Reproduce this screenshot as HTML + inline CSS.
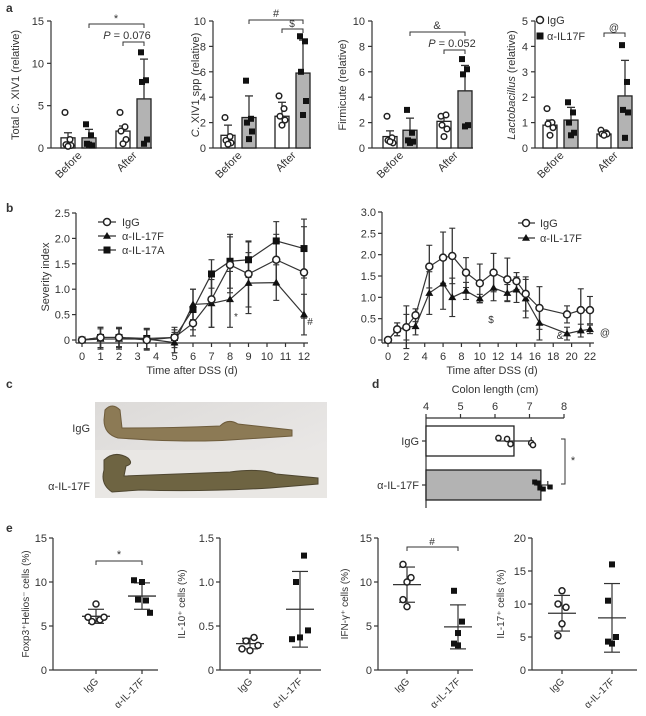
<!DOCTYPE html>
<html><head><meta charset="utf-8">
<style>
html,body{margin:0;padding:0;background:#fff;}
svg{display:block;font-family:"Liberation Sans",Arial,sans-serif;}
text{fill:#333;}
</style></head>
<body>
<svg id="fig" width="646" height="716" viewBox="0 0 646 716">
<defs>
<linearGradient id="bgGrad" x1="0" y1="0" x2="1" y2="1">
<stop offset="0" stop-color="#dcdad8"/><stop offset="1" stop-color="#eeeceb"/>
</linearGradient>
</defs>
</svg>
<script>
// ---------- Panel a data ----------
const aCategories = ["Before", "After"];
const aGroups = ["IgG", "α-IL17F"];
const aTitles = ["Total C. XIV1 (relative)", "C. XIV1 spp (relative)", "Firmicute (relative)", "Lactobacillus (relative)"];
const aMax = [15, 10, 10, 5];
const aTicks = [[0,5,10,15],[0,2,4,6,8,10],[0,2,4,6,8,10],[0,1,2,3,4,5]];
const aBars1 = [1.2, 1.2, 2.0, 5.8];
const aErr1 = [1.8, 2.2, 2.6, 10.5];
const aBars2 = [1.0, 2.4, 2.5, 5.9];
const aErr2 = [1.8, 4.1, 3.6, 8.5];
const aBars3 = [0.9, 1.4, 2.1, 4.5];
const aErr3 = [1.35, 2.35, 2.5, 6.5];
const aBars4 = [0.9, 1.1, 0.55, 2.05];
const aErr4 = [1.1, 1.6, 0.65, 3.45];
const aPts1 = [[4.2,1.0,0.4,0.3,0.2],[2.8,1.5,0.5,0.3,0.4],[4.2,2.5,2.0,1.0,0.5],[11.3,8.0,7.8,1.0,0.5]];
const aPts2 = [[2.4,0.9,0.6,0.4,0.3],[5.3,2.3,2.0,1.3,0.7],[4.1,3.1,2.5,2.2,1.8],[8.8,8.4,6.0,3.7,2.6]];
const aPts3 = [[2.5,0.8,0.6,0.4,0.5],[3.0,1.2,0.6,0.5,0.4],[2.5,2.6,1.8,1.5,0.9],[7.0,6.2,5.8,1.8,1.7]];
const aPts4 = [[1.55,1.0,0.95,0.8,0.5],[1.8,1.4,1.0,0.6,0.5],[0.7,0.6,0.55,0.55,0.5],[4.05,2.6,1.5,1.4,0.4]];

// ---------- Panel b data ----------
const bDaysL = [0,1,2,3.5,5,6,7,8,9,10.5,12];
const bIgGL = [0,0.05,0.05,0,0.05,0.33,0.8,1.48,1.3,1.58,1.33];
const bIgGLsd = [0,0.2,0.18,0.2,0.15,0.25,0.55,0.55,0.65,0.5,0.9];
const b17FL = [0,0.02,0.02,0.02,-0.05,0.7,0.72,0.8,1.12,1.13,0.5];
const b17FLsd = [0,0.2,0.2,0.2,0.2,0.3,0.47,0.55,0.6,0.35,0.4];
const b17AL = [0,0.05,0.05,0.03,0.05,0.6,1.3,1.55,1.58,1.95,1.8];
const b17ALsd = [0,0.2,0.2,0.2,0.2,0.4,0.28,0.53,0.35,0.38,0.58];
const bTicksLx = [0,1,2,3,4,5,6,7,8,9,10,11,12];
const bTicksLy = [0,0.5,1.0,1.5,2.0,2.5];
const bDaysR = [0,1,2,3,4.5,6,7,8.5,10,11.5,13,14,15,16.5,19.5,21,22];
const bIgGR = [0,0.25,0.3,0.58,1.72,1.93,1.97,1.58,1.33,1.58,1.42,1.38,1.08,0.75,0.6,0.7,0.7];
const bIgGRsd = [0,0.15,0.5,0.15,0.5,0.6,0.65,0.35,0.45,0.45,0.5,0.2,0.4,0.5,0.2,0.5,0.32];
const b17FR = [0,0.25,0.3,0.32,1.1,1.32,1.0,1.15,0.97,1.22,1.1,1.18,0.97,0.4,0.15,0.22,0.25];
const b17FRsd = [0,0.15,0.3,0.2,0.5,0.6,0.45,0.2,0.1,0.3,0.2,0.3,0.45,0.4,0.15,0.15,0.1];
const bTicksRx = [0,2,4,6,8,10,12,14,16,18,20,22];
const bTicksRy = [0,0.5,1.0,1.5,2.0,2.5,3.0];

// ---------- Panel d data ----------
const dGroups = ["IgG", "α-IL-17F"];
const dMeans = [6.55, 7.33];
const dSd = [0.5, 0.2];
const dPtsIgG = [6.1, 6.45, 6.35, 7.05, 7.1];
const dPts17F = [7.15, 7.3, 7.25, 7.6, 7.4];
const dTicks = [4,5,6,7,8];

// ---------- Panel e data ----------
const eTitles = ["Foxp3⁺Helios⁻ cells (%)", "IL-10⁺ cells (%)", "IFN-γ⁺ cells (%)", "IL-17⁺ cells (%)"];
const eMax = [15, 1.5, 15, 20];
const eTicks = [[0,5,10,15],[0,0.5,1.0,1.5],[0,5,10,15],[0,5,10,15,20]];
const eIgG1 = [7.5,6.0,5.5,5.7,6.0];
const e17F1 = [10.0,10.2,8.0,7.9,6.5];
const eIgG2 = [0.37,0.33,0.28,0.24,0.22];
const e17F2 = [1.3,1.0,0.45,0.35,0.37];
const eIgG3 = [12.0,10.5,10.0,8.0,7.2];
const e17F3 = [9.0,5.5,4.2,3.0,2.8];
const eIgG4 = [12.0,10.0,9.5,7.0,5.2];
const e17F4 = [16.0,10.5,5.0,4.0,4.3];
const eMeans = [[6.1,8.4],[0.3,0.69],[9.7,4.9],[8.6,7.9]];
const eSds = [[0.8,1.5],[0.06,0.43],[2.0,2.5],[2.7,5.2]];

const svg = document.getElementById('fig');
const NS = 'http://www.w3.org/2000/svg';
function mk(tag, attrs, name, parent) {
  const el = document.createElementNS(NS, tag);
  for (const k in attrs) el.setAttribute(k, attrs[k]);
  
  
  (parent || svg).appendChild(el);
  return el;
}
function txt(x, y, s, name, opts) {
  opts = opts || {};
  const t = mk('text', {x:x, y:y, 'font-size':opts.size||11, 'text-anchor':opts.anchor||'middle', fill:opts.fill||'#333', 'font-weight':opts.weight||'normal'}, name);
  if (opts.rot !== undefined) t.setAttribute('transform', 'rotate(' + opts.rot + ' ' + x + ' ' + y + ')');
  if (opts.italic) t.setAttribute('font-style', 'italic');
  t.textContent = s;
  return t;
}
function line(x1,y1,x2,y2,name,w,c) {
  return mk('line',{x1:x1,y1:y1,x2:x2,y2:y2,stroke:c||'#333','stroke-width':w||1.2},name);
}
function circ(x,y,r,name){ return mk('circle',{cx:x,cy:y,r:r,fill:'#fff',stroke:'#222','stroke-width':1.5},name); }
function sq(x,y,s,name){ return mk('rect',{x:x-s/2,y:y-s/2,width:s,height:s,fill:'#111'},name); }
function tri(x,y,s,name){ return mk('polygon',{points:(x)+','+(y-s)+' '+(x-s)+','+(y+s*0.7)+' '+(x+s)+','+(y+s*0.7),fill:'#111'},name); }
function bracket(x1,x2,y,name){ mk('path',{d:'M'+x1+' '+(y+4)+' V'+y+' H'+x2+' V'+(y+4),fill:'none',stroke:'#333','stroke-width':1},name); }

// panel letters
txt(6,12,'a','panel-label-a',{anchor:'start',weight:'bold',size:12});
txt(6,212,'b','panel-label-b',{anchor:'start',weight:'bold',size:12});
txt(6,388,'c','panel-label-c',{anchor:'start',weight:'bold',size:12});
txt(372,388,'d','panel-label-d',{anchor:'start',weight:'bold',size:12});
txt(6,532,'e','panel-label-e',{anchor:'start',weight:'bold',size:12});

// ---------- Panel a ----------
const aAxisX = [51, 213, 372, 535];
const aBarX = [[68,89,123,144],[228,249,282,303],[390,410,444,465],[550,571,604,625]];
const aTitleX = [19, 199, 346, 515];
const aBarsAll = [aBars1, aBars2, aBars3, aBars4];
const aErrAll = [aErr1, aErr2, aErr3, aErr4];
const aPtsAll = [aPts1, aPts2, aPts3, aPts4];
const jit = [-3, 2, -2, 3, 0];
for (let c = 0; c < 4; c++) {
  const y0 = 148, yTop = 21;
  const ys = v => y0 - v / aMax[c] * (y0 - yTop);
  const ax = aAxisX[c];
  line(ax, yTop, ax, y0, 'a-y-axis-' + (c+1));
  line(ax, y0, aBarX[c][3] + 8, y0, 'a-x-axis-' + (c+1));
  aTicks[c].forEach(t => {
    line(ax-4, ys(t), ax, ys(t), 'a-y-tick');
    txt(ax-7, ys(t)+4, String(t), 'a-y-tick-label', {anchor:'end', size:11});
  });
  const title = aTitles[c];
  const tt = txt(aTitleX[c], 85, '', 'a-y-axis-title-' + (c+1), {rot:-90, size:11});
  if (c === 0) { tt.innerHTML = 'Total <tspan font-style="italic">C.</tspan> XIV1 (relative)'; }
  else if (c === 1) { tt.innerHTML = '<tspan font-style="italic">C.</tspan> XIV1 spp (relative)'; }
  else if (c === 3) { tt.innerHTML = '<tspan font-style="italic">Lactobacillus</tspan> (relative)'; }
  else { tt.textContent = title; }
  for (let b = 0; b < 4; b++) {
    const bx = aBarX[c][b];
    const filled = b % 2 === 1;
    const by = ys(aBarsAll[c][b]);
    mk('rect', {x:bx-7, y:by, width:14, height:y0-by, fill: filled ? '#b3b3b3' : '#fff', stroke:'#222', 'stroke-width':1.3}, 'a-bar-' + aCategories[Math.floor(b/2)].toLowerCase() + '-' + (filled?'il17f':'igg'));
    const ey = ys(aErrAll[c][b]);
    line(bx, ey, bx, by, 'a-error-bar', 1.3);
    line(bx-4, ey, bx+4, ey, 'a-error-cap', 1.3);
    aPtsAll[c][b].forEach((v, i) => {
      const px = bx + jit[i];
      if (filled) sq(px, ys(v), 6, 'a-point-il17f'); else circ(px, ys(v), 2.8, 'a-point-igg');
    });
  }
  aCategories.forEach((cat, k) => {
    const cx = (aBarX[c][2*k] + aBarX[c][2*k+1]) / 2 + 4;
    txt(cx, 156, cat, 'a-x-label-' + cat.toLowerCase(), {anchor:'end', rot:-45, size:11});
  });
}
// panel a annotations
bracket(89,144,24,'a1-sig-bracket'); txt(116,22,'*','a1-sig-star',{size:11});
txt(127,39,'','a1-pvalue',{size:11}).innerHTML='<tspan font-style="italic">P</tspan> = 0.076';
bracket(123,144,42,'a1-p-bracket');
bracket(249,303,20,'a2-sig-bracket'); txt(276,17,'#','a2-sig-hash',{size:11});
bracket(282,303,29,'a2-dollar-bracket'); txt(292,27,'$','a2-sig-dollar',{size:10});
bracket(410,465,32,'a3-sig-bracket'); txt(437,29,'&','a3-sig-amp',{size:11});
txt(452,47,'','a3-pvalue',{size:11}).innerHTML='<tspan font-style="italic">P</tspan> = 0.052';
bracket(444,465,50,'a3-p-bracket');
bracket(604,625,33,'a4-sig-bracket'); txt(614,31,'@','a4-sig-at',{size:10});
circ(540,20,3.5,'legend-igg-marker'); txt(547,24,'IgG','legend-igg-label',{anchor:'start',size:11});
sq(540,36,7,'legend-il17f-marker'); txt(547,40,'α-IL17F','legend-il17f-label',{anchor:'start',size:11});

// ---------- Panel b ----------
function lineChart(cfg) {
  const xs = v => cfg.x0 + v * cfg.dx;
  const ys = v => cfg.y0 - v / cfg.ymax * (cfg.y0 - cfg.yTop);
  line(cfg.ax, cfg.yTop, cfg.ax, cfg.y0 + 3, cfg.id + '-y-axis');
  line(cfg.ax, cfg.y0 + 3, xs(cfg.xTicks[cfg.xTicks.length-1]) + 4, cfg.y0 + 3, cfg.id + '-x-axis');
  cfg.yTicks.forEach(t => {
    line(cfg.ax-4, ys(t), cfg.ax, ys(t), cfg.id + '-y-tick');
    txt(cfg.ax-6, ys(t)+4, t === 0 ? '0' : t.toFixed(1), cfg.id + '-y-tick-label', {anchor:'end', size:11});
  });
  cfg.xTicks.forEach(t => {
    line(xs(t), cfg.y0+3, xs(t), cfg.y0+7, cfg.id + '-x-tick');
    txt(xs(t), cfg.y0+20, String(t), cfg.id + '-x-tick-label', {size:11});
  });
  cfg.series.forEach(s => {
    let d = '';
    cfg.days.forEach((dd, i) => { d += (i ? 'L' : 'M') + xs(dd) + ' ' + ys(s.vals[i]) + ' '; });
    mk('path', {d:d, fill:'none', stroke:'#333', 'stroke-width':1.2}, cfg.id + '-line-' + s.key);
    cfg.days.forEach((dd, i) => {
      const x = xs(dd), v = s.vals[i], e = s.sd[i];
      if (e > 0) {
        line(x, ys(v+e), x, ys(v-e), cfg.id + '-error-bar', 1.3);
        line(x-3, ys(v+e), x+3, ys(v+e), cfg.id + '-error-cap', 1.1);
        line(x-3, ys(v-e), x+3, ys(v-e), cfg.id + '-error-cap', 1.1);
      }
    });
  });
  cfg.series.forEach(s => {
    cfg.days.forEach((dd, i) => {
      const x = xs(dd), y = ys(s.vals[i]);
      if (s.key === 'igg') circ(x, y, 3.5, cfg.id + '-point-igg');
      else if (s.key === 'il17f') tri(x, y, 4, cfg.id + '-point-il17f');
      else sq(x, y, 7, cfg.id + '-point-il17a');
    });
  });
}
lineChart({id:'b-left', ax:76, x0:82, dx:18.5, y0:340, yTop:213, ymax:2.5, xTicks:bTicksLx, yTicks:bTicksLy, days:bDaysL,
  series:[{key:'il17a', vals:b17AL, sd:b17ALsd},{key:'il17f', vals:b17FL, sd:b17FLsd},{key:'igg', vals:bIgGL, sd:bIgGLsd}]});
lineChart({id:'b-right', ax:382, x0:388, dx:9.18, y0:340, yTop:212, ymax:3.0, xTicks:bTicksRx, yTicks:bTicksRy, days:bDaysR,
  series:[{key:'il17f', vals:b17FR, sd:b17FRsd},{key:'igg', vals:bIgGR, sd:bIgGRsd}]});
txt(49,277,'Severity index','b-left-y-axis-title',{rot:-90,size:11});
txt(192,374,'Time after DSS (d)','b-left-x-axis-title',{size:11});
txt(492,374,'Time after DSS (d)','b-right-x-axis-title',{size:11});
// legends b
[['igg','IgG',222],['il17f','α-IL-17F',236],['il17a','α-IL-17A',250]].forEach(l => {
  line(98,l[2],116,l[2],'b-left-legend-line');
  if (l[0]==='igg') circ(107,l[2],3.5,'b-left-legend-marker-igg');
  else if (l[0]==='il17f') tri(107,l[2],4,'b-left-legend-marker-il17f');
  else sq(107,l[2],7,'b-left-legend-marker-il17a');
  txt(122,l[2]+4,l[1],'b-left-legend-label-'+l[0],{anchor:'start',size:11});
});
[['igg','IgG',223],['il17f','α-IL-17F',238]].forEach(l => {
  line(518,l[2],535,l[2],'b-right-legend-line');
  if (l[0]==='igg') circ(526,l[2],3.5,'b-right-legend-marker-igg');
  else tri(526,l[2],4,'b-right-legend-marker-il17f');
  txt(540,l[2]+4,l[1],'b-right-legend-label-'+l[0],{anchor:'start',size:11});
});
txt(236,320,'*','b-left-sig-star',{size:10});
txt(310,325,'#','b-left-sig-hash',{size:10});
txt(491,323,'$','b-right-sig-dollar',{size:10});
txt(560,339,'&','b-right-sig-amp',{size:10});
txt(605,336,'@','b-right-sig-at',{size:10});

// ---------- Panel c (photo) ----------
mk('rect',{x:95,y:402,width:232,height:96,fill:'url(#bgGrad)'},'colon-photo');
mk('rect',{x:95,y:450,width:232,height:48,fill:'#e9e7e4'},'colon-photo-lower');
mk('path',{d:'M105 410 Q112 402 120 410 L122 428 Q170 428 220 426 Q228 418 238 424 L292 430 L292 436 L230 440 Q200 442 150 440 L118 438 Q104 434 104 420 Z',fill:'#8c7a55',stroke:'#6e5c3c','stroke-width':1},'colon-igg');
mk('path',{d:'M104 460 Q115 450 128 458 Q134 464 126 466 L124 476 Q180 474 230 472 Q260 468 276 474 L318 478 L318 484 L270 488 Q200 492 140 490 L112 492 Q100 484 104 470 Z',fill:'#6e6442',stroke:'#4e4630','stroke-width':1},'colon-il17f');
txt(90,432,'IgG','c-label-igg',{anchor:'end',size:11});
txt(90,490,'α-IL-17F','c-label-il17f',{anchor:'end',size:11});

// ---------- Panel d ----------
(function(){
  const xs = v => 426 + (v - 4) * 34.5;
  line(426,418,426,508,'d-y-axis');
  line(426,418,xs(8),418,'d-x-axis');
  dTicks.forEach(t => {
    line(xs(t),414,xs(t),418,'d-x-tick');
    txt(xs(t),410,String(t),'d-x-tick-label',{size:11});
  });
  txt(495,393,'Colon length (cm)','d-x-axis-title',{size:11});
  const rowsY = [441, 485];
  const ptsAll = [dPtsIgG, dPts17F];
  dGroups.forEach((g, i) => {
    const cy = rowsY[i];
    mk('rect',{x:426,y:cy-15,width:xs(dMeans[i])-426,height:30,fill:i? '#b3b3b3':'#fff',stroke:'#222','stroke-width':1.3},'d-bar-'+(i?'il17f':'igg'));
    line(422,cy,426,cy,'d-y-tick');
    txt(419,cy+4,g,'d-y-label-'+(i?'il17f':'igg'),{anchor:'end',size:11});
    line(xs(dMeans[i]-dSd[i]),cy,xs(dMeans[i]+dSd[i]),cy,'d-error-bar',1.2);
    line(xs(dMeans[i]+dSd[i]),cy-4,xs(dMeans[i]+dSd[i]),cy+4,'d-error-cap',1.2);
    const jy = [-3,3,-2,2,4];
    ptsAll[i].forEach((v,k) => {
      if (i) sq(xs(v), cy+jy[k], 5, 'd-point-il17f'); else circ(xs(v), cy+jy[k], 2.6, 'd-point-igg');
    });
  });
  mk('path',{d:'M561 439 H565 V484 H561',fill:'none',stroke:'#333','stroke-width':1},'d-sig-bracket');
  txt(573,464,'*','d-sig-star',{size:11});
})();

// ---------- Panel e ----------
const eAxisX = [53, 220, 378, 532];
const eCatX = [[96,142],[250,300],[407,458],[562,612]];
const eEndX = [158, 321, 473, 637];
const eTitleX = [29, 185, 348, 504];
const ePts = [[eIgG1,e17F1],[eIgG2,e17F2],[eIgG3,e17F3],[eIgG4,e17F4]];
const ejit = [[0,-8,-4,4,8],[4,-4,8,-8,0],[-4,4,0,-4,0],[0,-4,4,0,-4]];
for (let c = 0; c < 4; c++) {
  const y0 = 670, yTop = 538;
  const ys = v => y0 - v / eMax[c] * (y0 - yTop);
  const ax = eAxisX[c];
  line(ax, yTop, ax, y0, 'e-y-axis-' + (c+1));
  line(ax, y0, eEndX[c], y0, 'e-x-axis-' + (c+1));
  eTicks[c].forEach(t => {
    line(ax-4, ys(t), ax, ys(t), 'e-y-tick');
    txt(ax-6, ys(t)+4, (eMax[c] < 2 && t !== 0) ? t.toFixed(1) : String(t), 'e-y-tick-label', {anchor:'end', size:11});
  });
  const tt = txt(eTitleX[c], 604, eTitles[c], 'e-y-axis-title-' + (c+1), {rot:-90, size:10});
  ['IgG','α-IL-17F'].forEach((g, k) => {
    const cx = eCatX[c][k];
    line(cx, y0, cx, y0+4, 'e-x-tick');
    txt(cx+3, y0+12, g, 'e-x-label-' + (k?'il17f':'igg'), {anchor:'end', rot:-45, size:10});
    const m = eMeans[c][k], s = eSds[c][k];
    line(cx-14, ys(m), cx+14, ys(m), 'e-mean-line', 1.3);
    line(cx, ys(m+s), cx, ys(m-s), 'e-sd-line', 1.2);
    line(cx-8, ys(m+s), cx+8, ys(m+s), 'e-sd-cap', 1.2);
    line(cx-8, ys(m-s), cx+8, ys(m-s), 'e-sd-cap', 1.2);
    ePts[c][k].forEach((v, i) => {
      const px = cx + ejit[c][i];
      if (k) sq(px, ys(v), 6, 'e-point-il17f'); else circ(px, ys(v), 3, 'e-point-igg');
    });
  });
}
bracket(96,142,561,'e1-sig-bracket'); txt(119,558,'*','e1-sig-star',{size:11});
bracket(407,458,547,'e3-sig-bracket'); txt(432,545,'#','e3-sig-hash',{size:10});
</script>
</body></html>
